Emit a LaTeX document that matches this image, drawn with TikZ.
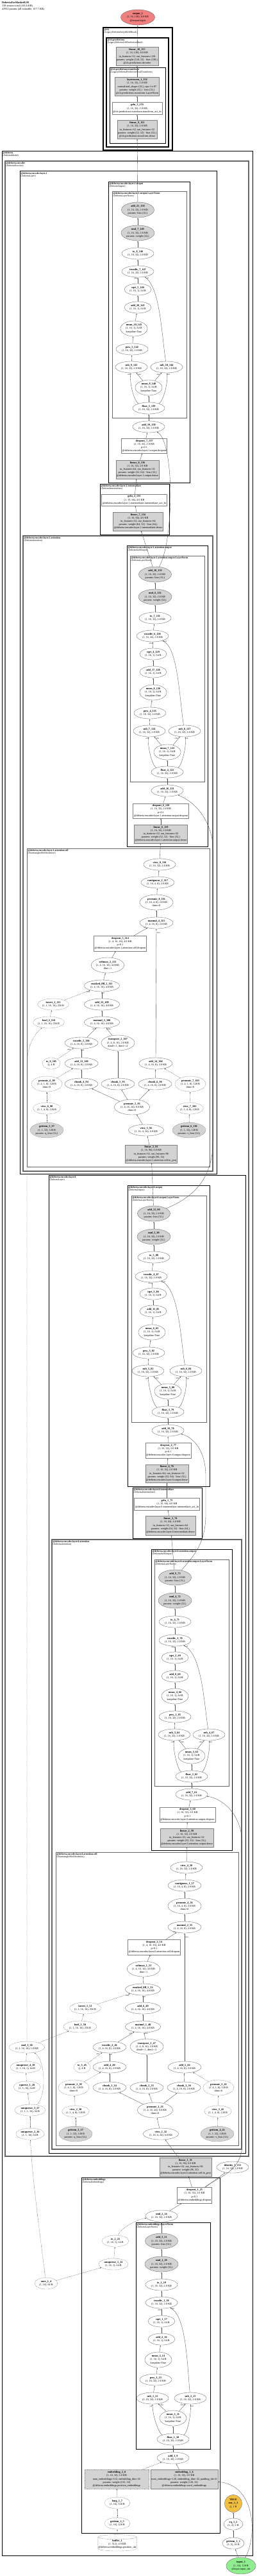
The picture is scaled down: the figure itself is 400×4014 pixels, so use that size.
\documentclass[tikz,border=0pt]{standalone}
\usepackage{fontspec}
\setmainfont{Liberation Serif}
\usepackage{tikz}
\usetikzlibrary{arrows.meta,shapes.geometric}
\definecolor{edgegray}{RGB}{80,80,80}
\definecolor{paramgray}{RGB}{211,211,211}
\definecolor{outred}{RGB}{240,128,128}
\definecolor{ingreen}{RGB}{144,238,144}
\definecolor{boolgold}{RGB}{242,192,64}

\begin{document}
\begin{tikzpicture}[x=1pt, y=-1pt,
    every node/.style={font=\fontsize{4.2}{5.1}\selectfont},
    op/.style={ellipse, draw=black!60, fill=white, line width=0.35pt, inner sep=0.2pt, minimum width=50pt, minimum height=18pt, align=center},
    opw/.style={op, minimum height=24pt},
    par/.style={op, fill=paramgray, minimum height=24pt},
    cst/.style={op, dash pattern=on 1.2pt off 1pt},
    cstp/.style={par, dash pattern=on 1.2pt off 1pt},
    mod/.style={rectangle, draw=black!50, fill=white, line width=0.35pt, inner sep=1.2pt, align=center},
    modp/.style={mod, fill=paramgray},
    clab/.style={anchor=north west, align=left, inner sep=1.3pt, font=\fontsize{3.8}{4.3}\selectfont},
    clk/.style={draw=black, line width=0.9pt},
    clg/.style={draw=black!60, line width=1.2pt},
    arr/.style={-{Latex[length=2.2pt,width=1.6pt]}, draw=edgegray, line width=0.35pt},
    carr/.style={arr, dash pattern=on 1.2pt off 1pt},
    elab/.style={font=\fontsize{2.6}{3}\selectfont, inner sep=0.4pt}
]
\useasboundingbox (0,0) rectangle (400,4014);

% title
\node[anchor=north west, align=left, inner sep=0pt] (title) at (3,2) {\textbf{DebertaForMaskedLM}\\158 tensors total (183.6 KB)\\42932 params (all trainable, 167.7 KB)};

% clusters
\draw[clk, line width=1.3pt] (161,43) rectangle (269,234);
\node[clab] (c_cls) at (161,43) {\textbf{@cls}\\(LegacyDebertaOnlyMLMHead)};
\draw[clk, line width=1.1pt] (166,59) rectangle (263,229);
\node[clab] (c_pred) at (166,59) {\textbf{@cls.predictions}\\(LegacyDebertaLMPredictionHead)};
\draw[clk, line width=0.8pt] (171,105) rectangle (258,223);
\node[clab] (c_trans) at (171,105) {\textbf{@cls.predictions.transform}\\(LegacyDebertaPredictionHeadTransform)};

\draw[clk] (3,235) rectangle (394,3982);
\node[clab] (c_deberta) at (3,235) {\textbf{@deberta}\\(DebertaModel)};
\draw[clg, line width=1.5pt] (8,251) rectangle (388,3360);
\node[clab] (c_enc) at (8,251) {\textbf{@deberta.encoder}\\(DebertaEncoder)};

\draw[clk, line width=1pt] (31,267) rectangle (338,1829);
\node[clab] (c_l1) at (31,267) {\textbf{@deberta.encoder.layer.1}\\(DebertaLayer)};
\draw[clk, line width=0.8pt] (169,283) rectangle (296,752);
\node[clab] (c_l1out) at (169,283) {\textbf{@deberta.encoder.layer.1.output}\\(DebertaOutput)};
\draw[clg, line width=1pt] (175,298) rectangle (291,651);
\node[clab] (c_l1outln) at (175,298) {\textbf{@deberta.encoder.layer.1.output.LayerNorm}\\(DebertaLayerNorm)};
\draw[clk, line width=0.8pt] (156,754) rectangle (264,833);
\node[clab] (c_l1int) at (156,754) {\textbf{@deberta.encoder.layer.1.intermediate}\\(DebertaIntermediate)};
\draw[clg, line width=1.1pt] (36,835) rectangle (332,1825);
\node[clab] (c_l1att) at (36,835) {\textbf{@deberta.encoder.layer.1.attention}\\(DebertaAttention)};
\draw[clk, line width=0.8pt] (198,850) rectangle (324,1319);
\node[clab] (c_l1attout) at (198,850) {\textbf{@deberta.encoder.layer.1.attention.output}\\(DebertaSelfOutput)};
\draw[clg, line width=1pt] (203,866) rectangle (319,1218);
\node[clab] (c_l1attoutln) at (203,866) {\textbf{@deberta.encoder.layer.1.attention.output.LayerNorm}\\(DebertaLayerNorm)};
\draw[clg, line width=1pt] (42,1322) rectangle (327,1818);
\node[clab] (c_l1self) at (42,1322) {\textbf{@deberta.encoder.layer.1.attention.self}\\(DisentangledSelfAttention)};

\draw[clk, line width=1pt] (76,1831) rectangle (383,3355);
\node[clab] (c_l0) at (76,1831) {\textbf{@deberta.encoder.layer.0}\\(DebertaLayer)};
\draw[clk, line width=0.8pt] (199,1847) rectangle (327,2316);
\node[clab] (c_l0out) at (199,1847) {\textbf{@deberta.encoder.layer.0.output}\\(DebertaOutput)};
\draw[clg, line width=1pt] (205,1863) rectangle (322,2216);
\node[clab] (c_l0outln) at (205,1863) {\textbf{@deberta.encoder.layer.0.output.LayerNorm}\\(DebertaLayerNorm)};
\draw[clk, line width=0.8pt] (207,2318) rectangle (315,2397);
\node[clab] (c_l0int) at (207,2318) {\textbf{@deberta.encoder.layer.0.intermediate}\\(DebertaIntermediate)};
\draw[clg, line width=1.1pt] (81,2399) rectangle (377,3349);
\node[clab] (c_l0att) at (81,2399) {\textbf{@deberta.encoder.layer.0.attention}\\(DebertaAttention)};
\draw[clk, line width=0.8pt] (236,2414) rectangle (362,2883);
\node[clab] (c_l0attout) at (236,2414) {\textbf{@deberta.encoder.layer.0.attention.output}\\(DebertaSelfOutput)};
\draw[clg, line width=1pt] (241,2430) rectangle (357,2783);
\node[clab] (c_l0attoutln) at (241,2430) {\textbf{@deberta.encoder.layer.0.attention.output.LayerNorm}\\(DebertaLayerNorm)};
\draw[clg, line width=1pt] (87,2886) rectangle (372,3343);
\node[clab] (c_l0self) at (87,2886) {\textbf{@deberta.encoder.layer.0.attention.self}\\(DisentangledSelfAttention)};

\draw[clk] (127,3393) rectangle (343,3947);
\node[clab] (c_emb) at (127,3393) {\textbf{@deberta.embeddings}\\(DebertaEmbeddings)};
\draw[clk] (212,3463) rectangle (328,3816);
\node[clab] (c_embln) at (212,3463) {\textbf{@deberta.embeddings.LayerNorm}\\(DebertaLayerNorm)};

% head
\node[op, fill=outred, minimum width=53pt, minimum height=24pt] (output_1) at (215,27) {\textbf{output\_1}\\(1, 16, 128), 8.0 KB\\@output.logits};
\node[modp, minimum width=64pt, minimum height=29pt] (linear_10_155) at (214,88) {\textbf{linear\_10\_155}\\(1, 16, 128), 8.0 KB\\in\_features=32, out\_features=128\\params: weight (128, 32) · bias (128,)\\@cls.predictions.decoder};
\node[modp, minimum width=66pt, minimum height=29pt] (layernorm_1_154) at (214,135) {\textbf{layernorm\_1\_154}\\(1, 16, 32), 2.0 KB\\normalized\_shape=(32,), eps=1e-07\\params: weight (32,) · bias (32,)\\@cls.predictions.transform.LayerNorm};
\node[mod, minimum width=75pt, minimum height=19pt] (gelu_3_153) at (214,169) {\textbf{gelu\_3\_153}\\(1, 16, 32), 2.0 KB\\@cls.predictions.transform.transform\_act\_fn};
\node[modp, minimum width=60pt, minimum height=29pt] (linear_9_152) at (214,202) {\textbf{linear\_9\_152}\\(1, 16, 32), 2.0 KB\\in\_features=32, out\_features=32\\params: weight (32, 32) · bias (32,)\\@cls.predictions.transform.dense};

% layer 1 output
\node[par, minimum width=51pt] (add_21_150) at (215,327) {\textbf{add\_21\_150}\\(1, 16, 32), 2.0 KB\\params: bias (32,)};
\node[par, minimum width=52pt] (mul_7_149) at (215,363) {\textbf{mul\_7\_149}\\(1, 16, 32), 2.0 KB\\params: weight (32,)};
\node[op] (to_8_148) at (215,395) {\textbf{to\_8\_148}\\(1, 16, 32), 2.0 KB};
\node[op] (truediv_7_147) at (215,423) {\textbf{truediv\_7\_147}\\(1, 16, 32), 2.0 KB};
\node[op, minimum width=42pt] (sqrt_5_146) at (215,451) {\textbf{sqrt\_5\_146}\\(1, 16, 1), 64 B};
\node[op, minimum width=42pt] (add_20_145) at (215,479) {\textbf{add\_20\_145}\\(1, 16, 1), 64 B};
\node[opw, minimum width=42pt] (mean_10_143) at (209,512) {\textbf{mean\_10\_143}\\(1, 16, 1), 64 B\\keepdim=True};
\node[op] (pow_5_142) at (206,544) {\textbf{pow\_5\_142}\\(1, 16, 32), 2.0 KB};
\node[op] (sub_9_141) at (205,572) {\textbf{sub\_9\_141}\\(1, 16, 32), 2.0 KB};
\node[op] (sub_10_144) at (260,572) {\textbf{sub\_10\_144}\\(1, 16, 32), 2.0 KB};
\node[opw, minimum width=42pt] (mean_9_140) at (232,604) {\textbf{mean\_9\_140}\\(1, 16, 1), 64 B\\keepdim=True};
\node[op] (float_5_139) at (232,636) {\textbf{float\_5\_139}\\(1, 16, 32), 2.0 KB};
\node[op] (add_19_138) at (232,665) {\textbf{add\_19\_138}\\(1, 16, 32), 2.0 KB};
\node[mod, minimum width=68pt, minimum height=23pt] (dropout_7_137) at (225,695) {\textbf{dropout\_7\_137}\\(1, 16, 32), 2.0 KB\\p=0.1\\@deberta.encoder.layer.1.output.dropout};
\node[modp, minimum width=65pt, minimum height=29pt] (linear_8_136) at (214.5,731.5) {\textbf{linear\_8\_136}\\(1, 16, 32), 2.0 KB\\in\_features=64, out\_features=32\\params: weight (32, 64) · bias (32,)\\@deberta.encoder.layer.1.output.dense};
\node[mod, minimum width=97pt, minimum height=18pt] (gelu_2_135) at (209.5,779) {\textbf{gelu\_2\_135}\\(1, 16, 64), 4.0 KB\\@deberta.encoder.layer.1.intermediate.intermediate\_act\_fn};
\node[modp, minimum width=73pt, minimum height=29pt] (linear_7_134) at (215.5,812.5) {\textbf{linear\_7\_134}\\(1, 16, 64), 4.0 KB\\in\_features=32, out\_features=64\\params: weight (64, 32) · bias (64,)\\@deberta.encoder.layer.1.intermediate.dense};

% layer 1 attention output
\node[par, minimum width=51pt] (add_18_133) at (242,895) {\textbf{add\_18\_133}\\(1, 16, 32), 2.0 KB\\params: bias (32,)};
\node[par, minimum width=52pt] (mul_6_132) at (242,930) {\textbf{mul\_6\_132}\\(1, 16, 32), 2.0 KB\\params: weight (32,)};
\node[op] (to_7_131) at (242,963) {\textbf{to\_7\_131}\\(1, 16, 32), 2.0 KB};
\node[op] (truediv_6_130) at (238,991) {\textbf{truediv\_6\_130}\\(1, 16, 32), 2.0 KB};
\node[op, minimum width=42pt] (sqrt_4_129) at (239,1019) {\textbf{sqrt\_4\_129}\\(1, 16, 1), 64 B};
\node[op, minimum width=42pt] (add_17_128) at (239,1047) {\textbf{add\_17\_128}\\(1, 16, 1), 64 B};
\node[opw, minimum width=42pt] (mean_8_126) at (239,1079) {\textbf{mean\_8\_126}\\(1, 16, 1), 64 B\\keepdim=True};
\node[op] (pow_4_125) at (234,1111) {\textbf{pow\_4\_125}\\(1, 16, 32), 2.0 KB};
\node[op] (sub_7_124) at (233,1139) {\textbf{sub\_7\_124}\\(1, 16, 32), 2.0 KB};
\node[op] (sub_8_127) at (288,1139) {\textbf{sub\_8\_127}\\(1, 16, 32), 2.0 KB};
\node[opw, minimum width=42pt] (mean_7_123) at (261,1172) {\textbf{mean\_7\_123}\\(1, 16, 1), 64 B\\keepdim=True};
\node[op] (float_4_122) at (261,1203) {\textbf{float\_4\_122}\\(1, 16, 32), 2.0 KB};
\node[op] (add_16_121) at (261,1232) {\textbf{add\_16\_121}\\(1, 16, 32), 2.0 KB};
\node[mod, minimum width=82pt, minimum height=23pt] (dropout_6_120) at (251,1263.5) {\textbf{dropout\_6\_120}\\(1, 16, 32), 2.0 KB\\p=0.1\\@deberta.encoder.layer.1.attention.output.dropout};
\node[modp, minimum width=80pt, minimum height=29pt] (linear_6_119) at (251,1299.5) {\textbf{linear\_6\_119}\\(1, 16, 32), 2.0 KB\\in\_features=32, out\_features=32\\params: weight (32, 32) · bias (32,)\\@deberta.encoder.layer.1.attention.output.dense};

% layer 1 self attention
\node[op] (view_8_118) at (249,1347) {\textbf{view\_8\_118}\\(1, 16, 32), 2.0 KB};
\node[op, minimum width=52pt] (contiguous_2_117) at (246,1375) {\textbf{contiguous\_2\_117}\\(1, 16, 4, 8), 2.0 KB};
\node[opw, minimum width=52pt] (permute_8_116) at (244,1406) {\textbf{permute\_8\_116}\\(1, 16, 4, 8), 2.0 KB\\dims=0};
\node[op, minimum width=52pt] (matmul_4_115) at (244,1438) {\textbf{matmul\_4\_115}\\(1, 4, 16, 8), 2.0 KB};
\node[mod, minimum width=79pt, minimum height=24pt] (dropout_5_114) at (187.5,1470) {\textbf{dropout\_5\_114}\\(1, 4, 16, 16), 4.0 KB\\p=0.1\\@deberta.encoder.layer.1.attention.self.dropout};
\node[opw, minimum width=46pt] (softmax_2_113) at (168,1504) {\textbf{softmax\_2\_113}\\(1, 4, 16, 16), 4.0 KB\\dim=-1};
\node[op, minimum width=55pt] (masked_fill_2_112) at (159,1536) {\textbf{masked\_fill\_2\_112}\\(1, 4, 16, 16), 4.0 KB};
\node[cst, minimum width=44pt] (invert_2_111) at (83,1565) {\textbf{invert\_2\_111}\\(1, 1, 16, 16), 256 B};
\node[op, minimum width=55pt] (add_15_109) at (159,1565) {\textbf{add\_15\_109}\\(1, 4, 16, 16), 4.0 KB};
\node[cst, minimum width=44pt] (bool_2_110) at (76,1593) {\textbf{bool\_2\_110}\\(1, 1, 16, 16), 256 B};
\node[op, minimum width=55pt] (matmul_3_108) at (159,1593) {\textbf{matmul\_3\_108}\\(1, 4, 16, 16), 4.0 KB};
\node[op, minimum width=52pt] (truediv_5_106) at (127,1625) {\textbf{truediv\_5\_106}\\(1, 4, 16, 8), 2.0 KB};
\node[opw, minimum width=52pt] (transpose_2_107) at (184,1625) {\textbf{transpose\_2\_107}\\(1, 4, 8, 16), 2.0 KB\\dim0=-1, dim1=-2};
\node[cst, minimum width=28pt] (to_6_105) at (80,1657) {\textbf{to\_6\_105}\\(), 4 B};
\node[op, minimum width=52pt] (add_13_100) at (127,1657) {\textbf{add\_13\_100}\\(1, 4, 16, 8), 2.0 KB};
\node[op, minimum width=52pt] (add_14_104) at (243,1657) {\textbf{add\_14\_104}\\(1, 4, 16, 8), 2.0 KB};
\node[cst, minimum width=48pt, minimum height=24pt] (permute_6_99) at (73,1689) {\textbf{permute\_6\_99}\\(1, 4, 1, 8), 128 B\\dims=0};
\node[op, minimum width=52pt] (chunk_4_94) at (127,1689) {\textbf{chunk\_4\_94}\\(1, 4, 16, 8), 2.0 KB};
\node[op, minimum width=52pt] (chunk_5_95) at (184,1689) {\textbf{chunk\_5\_95}\\(1, 4, 16, 8), 2.0 KB};
\node[op, minimum width=52pt] (chunk_6_96) at (242,1689) {\textbf{chunk\_6\_96}\\(1, 4, 16, 8), 2.0 KB};
\node[cst, minimum width=48pt, minimum height=24pt] (permute_7_103) at (297,1689) {\textbf{permute\_7\_103}\\(1, 4, 1, 8), 128 B\\dims=0};
\node[cst, minimum width=42pt] (view_6_98) at (73,1727) {\textbf{view\_6\_98}\\(1, 1, 4, 8), 128 B};
\node[opw, minimum width=55pt] (permute_5_93) at (206,1725) {\textbf{permute\_5\_93}\\(1, 4, 16, 24), 6.0 KB\\dims=0};
\node[cst, minimum width=42pt] (view_7_102) at (296,1727) {\textbf{view\_7\_102}\\(1, 1, 4, 8), 128 B};
\node[cstp, minimum width=52pt] (getitem_5_97) at (73,1761) {\textbf{getitem\_5\_97}\\(1, 1, 32), 128 B\\params: q\_bias (32,)};
\node[op, minimum width=55pt] (view_5_92) at (228,1761) {\textbf{view\_5\_92}\\(1, 16, 4, 24), 6.0 KB};
\node[cstp, minimum width=52pt] (getitem_6_101) at (295,1761) {\textbf{getitem\_6\_101}\\(1, 1, 32), 128 B\\params: v\_bias (32,)};
\node[modp, minimum width=76pt, minimum height=28pt] (linear_5_91) at (236,1798) {\textbf{linear\_5\_91}\\(1, 16, 96), 6.0 KB\\in\_features=32, out\_features=96\\params: weight (96, 32)\\@deberta.encoder.layer.1.attention.self.in\_proj};

% layer 0 output
\node[par, minimum width=51pt] (add_12_90) at (240,1891) {\textbf{add\_12\_90}\\(1, 16, 32), 2.0 KB\\params: bias (32,)};
\node[par, minimum width=52pt] (mul_5_89) at (240,1927) {\textbf{mul\_5\_89}\\(1, 16, 32), 2.0 KB\\params: weight (32,)};
\node[op] (to_5_88) at (240,1959) {\textbf{to\_5\_88}\\(1, 16, 32), 2.0 KB};
\node[op] (truediv_4_87) at (236,1989) {\textbf{truediv\_4\_87}\\(1, 16, 32), 2.0 KB};
\node[op, minimum width=42pt] (sqrt_3_86) at (239,2016) {\textbf{sqrt\_3\_86}\\(1, 16, 1), 64 B};
\node[op, minimum width=42pt] (add_11_85) at (239,2043) {\textbf{add\_11\_85}\\(1, 16, 1), 64 B};
\node[opw, minimum width=42pt] (mean_6_83) at (237,2076) {\textbf{mean\_6\_83}\\(1, 16, 1), 64 B\\keepdim=True};
\node[op] (pow_3_82) at (232,2108) {\textbf{pow\_3\_82}\\(1, 16, 32), 2.0 KB};
\node[op] (sub_5_81) at (231,2136) {\textbf{sub\_5\_81}\\(1, 16, 32), 2.0 KB};
\node[op] (sub_6_84) at (290,2136) {\textbf{sub\_6\_84}\\(1, 16, 32), 2.0 KB};
\node[opw, minimum width=42pt] (mean_5_80) at (262,2168) {\textbf{mean\_5\_80}\\(1, 16, 1), 64 B\\keepdim=True};
\node[op] (float_3_79) at (262,2200) {\textbf{float\_3\_79}\\(1, 16, 32), 2.0 KB};
\node[op] (add_10_78) at (262,2229) {\textbf{add\_10\_78}\\(1, 16, 32), 2.0 KB};
\node[mod, minimum width=69pt, minimum height=24pt] (dropout_4_77) at (262.5,2260) {\textbf{dropout\_4\_77}\\(1, 16, 32), 2.0 KB\\p=0.1\\@deberta.encoder.layer.0.output.dropout};
\node[modp, minimum width=65pt, minimum height=28pt] (linear_4_76) at (260.5,2296) {\textbf{linear\_4\_76}\\(1, 16, 32), 2.0 KB\\in\_features=64, out\_features=32\\params: weight (32, 64) · bias (32,)\\@deberta.encoder.layer.0.output.dense};
\node[mod, minimum width=97pt, minimum height=19pt] (gelu_1_75) at (260.5,2343.5) {\textbf{gelu\_1\_75}\\(1, 16, 64), 4.0 KB\\@deberta.encoder.layer.0.intermediate.intermediate\_act\_fn};
\node[modp, minimum width=74pt, minimum height=30pt] (linear_3_74) at (266,2377) {\textbf{linear\_3\_74}\\(1, 16, 64), 4.0 KB\\in\_features=32, out\_features=64\\params: weight (64, 32) · bias (64,)\\@deberta.encoder.layer.0.intermediate.dense};

% layer 0 attention output
\node[par, minimum width=51pt] (add_9_73) at (273,2458) {\textbf{add\_9\_73}\\(1, 16, 32), 2.0 KB\\params: bias (32,)};
\node[par, minimum width=52pt] (mul_4_72) at (273,2494) {\textbf{mul\_4\_72}\\(1, 16, 32), 2.0 KB\\params: weight (32,)};
\node[op] (to_4_71) at (273,2527) {\textbf{to\_4\_71}\\(1, 16, 32), 2.0 KB};
\node[op] (truediv_3_70) at (273,2556) {\textbf{truediv\_3\_70}\\(1, 16, 32), 2.0 KB};
\node[op, minimum width=42pt] (sqrt_2_69) at (273,2583) {\textbf{sqrt\_2\_69}\\(1, 16, 1), 64 B};
\node[op, minimum width=42pt] (add_8_68) at (273,2612) {\textbf{add\_8\_68}\\(1, 16, 1), 64 B};
\node[opw, minimum width=42pt] (mean_4_66) at (273,2643) {\textbf{mean\_4\_66}\\(1, 16, 1), 64 B\\keepdim=True};
\node[op] (pow_2_65) at (273,2675) {\textbf{pow\_2\_65}\\(1, 16, 32), 2.0 KB};
\node[op] (sub_3_64) at (272,2703) {\textbf{sub\_3\_64}\\(1, 16, 32), 2.0 KB};
\node[op] (sub_4_67) at (326,2703) {\textbf{sub\_4\_67}\\(1, 16, 32), 2.0 KB};
\node[opw, minimum width=42pt] (mean_3_63) at (299,2736) {\textbf{mean\_3\_63}\\(1, 16, 1), 64 B\\keepdim=True};
\node[op] (float_2_62) at (299,2768) {\textbf{float\_2\_62}\\(1, 16, 32), 2.0 KB};
\node[op] (add_7_61) at (299,2796) {\textbf{add\_7\_61}\\(1, 16, 32), 2.0 KB};
\node[mod, minimum width=81pt, minimum height=23pt] (dropout_3_60) at (292.5,2827.5) {\textbf{dropout\_3\_60}\\(1, 16, 32), 2.0 KB\\p=0.1\\@deberta.encoder.layer.0.attention.output.dropout};
\node[modp, minimum width=79pt, minimum height=29pt] (linear_2_59) at (291.5,2863.5) {\textbf{linear\_2\_59}\\(1, 16, 32), 2.0 KB\\in\_features=32, out\_features=32\\params: weight (32, 32) · bias (32,)\\@deberta.encoder.layer.0.attention.output.dense};

% layer 0 self attention
\node[op] (view_4_58) at (291,2910) {\textbf{view\_4\_58}\\(1, 16, 32), 2.0 KB};
\node[op, minimum width=52pt] (contiguous_1_57) at (288,2938) {\textbf{contiguous\_1\_57}\\(1, 16, 4, 8), 2.0 KB};
\node[opw, minimum width=52pt] (permute_4_56) at (288,2970) {\textbf{permute\_4\_56}\\(1, 16, 4, 8), 2.0 KB\\dims=0};
\node[op, minimum width=52pt] (matmul_2_55) at (288,3003) {\textbf{matmul\_2\_55}\\(1, 4, 16, 8), 2.0 KB};
\node[mod, minimum width=77pt, minimum height=24pt] (dropout_2_54) at (240.5,3034) {\textbf{dropout\_2\_54}\\(1, 4, 16, 16), 4.0 KB\\p=0.1\\@deberta.encoder.layer.0.attention.self.dropout};
\node[opw, minimum width=46pt] (softmax_1_53) at (224,3068) {\textbf{softmax\_1\_53}\\(1, 4, 16, 16), 4.0 KB\\dim=-1};
\node[op, minimum width=55pt] (masked_fill_1_52) at (223,3100) {\textbf{masked\_fill\_1\_52}\\(1, 4, 16, 16), 4.0 KB};
\node[cst, minimum width=44pt] (invert_1_51) at (133,3129) {\textbf{invert\_1\_51}\\(1, 1, 16, 16), 256 B};
\node[op, minimum width=55pt] (add_6_49) at (223,3129) {\textbf{add\_6\_49}\\(1, 4, 16, 16), 4.0 KB};
\node[cst, minimum width=52pt] (bool_1_50) at (125,3158) {\textbf{bool\_1\_50}\\(1, 1, 16, 16), 256 B};
\node[op, minimum width=55pt] (matmul_1_48) at (223,3158) {\textbf{matmul\_1\_48}\\(1, 4, 16, 16), 4.0 KB};
\node[cst, minimum width=55pt] (mul_3_30) at (42,3190) {\textbf{mul\_3\_30}\\(1, 1, 16, 16), 1.0 KB};
\node[op, minimum width=52pt] (truediv_2_46) at (171,3190) {\textbf{truediv\_2\_46}\\(1, 4, 16, 8), 2.0 KB};
\node[opw, minimum width=52pt] (transpose_1_47) at (229,3189) {\textbf{transpose\_1\_47}\\(1, 4, 8, 16), 2.0 KB\\dim0=-1, dim1=-2};
\node[cst, minimum width=48pt] (unsqueeze_4_29) at (40,3221) {\textbf{unsqueeze\_4\_29}\\(1, 1, 16, 1), 64 B};
\node[cst, minimum width=26pt] (to_3_45) at (128,3221) {\textbf{to\_3\_45}\\(), 4 B};
\node[op, minimum width=52pt] (add_4_40) at (171,3221) {\textbf{add\_4\_40}\\(1, 4, 16, 8), 2.0 KB};
\node[op, minimum width=52pt] (add_5_44) at (288,3221) {\textbf{add\_5\_44}\\(1, 4, 16, 8), 2.0 KB};
\node[cst, minimum width=42pt] (squeeze_1_28) at (42,3252) {\textbf{squeeze\_1\_28}\\(1, 1, 16), 64 B};
\node[cst, minimum width=48pt, minimum height=24pt] (permute_2_39) at (115,3253) {\textbf{permute\_2\_39}\\(1, 4, 1, 8), 128 B\\dims=0};
\node[op, minimum width=52pt] (chunk_1_34) at (171,3253) {\textbf{chunk\_1\_34}\\(1, 4, 16, 8), 2.0 KB};
\node[op, minimum width=52pt] (chunk_2_35) at (229,3253) {\textbf{chunk\_2\_35}\\(1, 4, 16, 8), 2.0 KB};
\node[op, minimum width=52pt] (chunk_3_36) at (287,3253) {\textbf{chunk\_3\_36}\\(1, 4, 16, 8), 2.0 KB};
\node[cst, minimum width=48pt, minimum height=24pt] (permute_3_43) at (341,3253) {\textbf{permute\_3\_43}\\(1, 4, 1, 8), 128 B\\dims=0};
\node[cst, minimum width=48pt] (unsqueeze_3_27) at (47,3288) {\textbf{unsqueeze\_3\_27}\\(1, 1, 1, 16), 64 B};
\node[cst, minimum width=42pt] (view_2_38) at (118,3290) {\textbf{view\_2\_38}\\(1, 1, 4, 8), 128 B};
\node[opw, minimum width=55pt] (permute_1_33) at (242,3288) {\textbf{permute\_1\_33}\\(1, 4, 16, 24), 6.0 KB\\dims=0};
\node[cst, minimum width=42pt] (view_3_42) at (340,3290) {\textbf{view\_3\_42}\\(1, 1, 4, 8), 128 B};
\node[cst, minimum width=44pt] (unsqueeze_2_26) at (47,3325) {\textbf{unsqueeze\_2\_26}\\(1, 1, 16), 64 B};
\node[cstp, minimum width=52pt] (getitem_3_37) at (118,3325) {\textbf{getitem\_3\_37}\\(1, 1, 32), 128 B\\params: q\_bias (32,)};
\node[op, minimum width=55pt] (view_1_32) at (251,3325) {\textbf{view\_1\_32}\\(1, 16, 4, 24), 6.0 KB};
\node[cstp, minimum width=52pt] (getitem_4_41) at (339,3325) {\textbf{getitem\_4\_41}\\(1, 1, 32), 128 B\\params: v\_bias (32,)};

% embeddings and inputs
\node[modp, minimum width=77pt, minimum height=29pt] (linear_1_31) at (289.5,3376.5) {\textbf{linear\_1\_31}\\(1, 16, 96), 6.0 KB\\in\_features=32, out\_features=96\\params: weight (96, 32)\\@deberta.encoder.layer.0.attention.self.in\_proj};
\node[op] (identity_1_151) at (363,3377) {\textbf{identity\_1\_151}\\(1, 16, 32), 2.0 KB};
\node[mod, minimum width=53pt, minimum height=25pt] (dropout_1_25) at (303.5,3420.5) {\textbf{dropout\_1\_25}\\(1, 16, 32), 2.0 KB\\p=0.1\\@deberta.embeddings.dropout};
\node[op] (mul_2_24) at (252,3453) {\textbf{mul\_2\_24}\\(1, 16, 32), 2.0 KB};
\node[cst, minimum width=42pt] (to_2_23) at (180,3492) {\textbf{to\_2\_23}\\(1, 16, 1), 64 B};
\node[cst, minimum width=46pt] (unsqueeze_1_22) at (177,3528) {\textbf{unsqueeze\_1\_22}\\(1, 16, 1), 64 B};
\node[cst, minimum width=36pt] (ones_1_4) at (72,3558) {\textbf{ones\_1\_4}\\(1, 16), 64 B};

\node[par, minimum width=51pt] (add_3_21) at (252,3492) {\textbf{add\_3\_21}\\(1, 16, 32), 2.0 KB\\params: bias (32,)};
\node[par, minimum width=52pt] (mul_1_20) at (252,3528) {\textbf{mul\_1\_20}\\(1, 16, 32), 2.0 KB\\params: weight (32,)};
\node[op] (to_1_19) at (252,3560) {\textbf{to\_1\_19}\\(1, 16, 32), 2.0 KB};
\node[op] (truediv_1_18) at (252,3588) {\textbf{truediv\_1\_18}\\(1, 16, 32), 2.0 KB};
\node[op, minimum width=42pt] (sqrt_1_17) at (252,3617) {\textbf{sqrt\_1\_17}\\(1, 16, 1), 64 B};
\node[op, minimum width=42pt] (add_2_16) at (252,3645) {\textbf{add\_2\_16}\\(1, 16, 1), 64 B};
\node[opw, minimum width=42pt] (mean_2_14) at (247,3677) {\textbf{mean\_2\_14}\\(1, 16, 1), 64 B\\keepdim=True};
\node[op] (pow_1_13) at (243,3708) {\textbf{pow\_1\_13}\\(1, 16, 32), 2.0 KB};
\node[op] (sub_1_12) at (238,3737) {\textbf{sub\_1\_12}\\(1, 16, 32), 2.0 KB};
\node[op] (sub_2_15) at (297,3737) {\textbf{sub\_2\_15}\\(1, 16, 32), 2.0 KB};
\node[opw, minimum width=42pt] (mean_1_11) at (270,3768) {\textbf{mean\_1\_11}\\(1, 16, 1), 64 B\\keepdim=True};
\node[op] (float_1_10) at (270,3801) {\textbf{float\_1\_10}\\(1, 16, 32), 2.0 KB};
\node[op] (add_1_9) at (270,3830) {\textbf{add\_1\_9}\\(1, 16, 32), 2.0 KB};
\node[modp, dash pattern=on 1.2pt off 1pt, minimum width=100pt, minimum height=30pt] (embedding_2_8) at (182,3863) {\textbf{embedding\_2\_8}\\(1, 16, 32), 2.0 KB\\num\_embeddings=512, embedding\_dim=32\\params: weight (512, 32)\\@deberta.embeddings.position\_embeddings};
\node[modp, minimum width=99pt, minimum height=30pt] (embedding_1_6) at (287.5,3863) {\textbf{embedding\_1\_6}\\(1, 16, 32), 2.0 KB\\num\_embeddings=128, embedding\_dim=32, padding\_idx=0\\params: weight (128, 32)\\@deberta.embeddings.word\_embeddings};
\node[cst, minimum width=40pt] (long_1_7) at (183,3900) {\textbf{long\_1\_7}\\(1, 16), 128 B};
\node[cst, minimum width=40pt] (getitem_2_5) at (183,3932) {\textbf{getitem\_2\_5}\\(1, 16), 128 B};
\node[cylinder, shape border rotate=90, aspect=0.12, draw=black!60, dash pattern=on 1.2pt off 1pt, line width=0.35pt, inner sep=0.5pt, minimum width=60pt, minimum height=25pt, align=center] (buffer_1) at (183,3964.5) {\textbf{buffer\_1}\\(1, 512), 4.0 KB\\@deberta.embeddings.position\_ids};
\node[circle, draw=black!60, fill=boolgold, line width=0.35pt, minimum size=27pt, inner sep=0pt, align=center] (any_1_3) at (364,3901) {\textbf{TRUE}\\\textbf{any\_1\_3}\\(), 1 B};
\node[op, minimum width=30pt] (eq_1_2) at (364,3933) {\textbf{eq\_1\_2}\\(1, 2), 2 B};
\node[op, minimum width=34pt] (getitem_1_1) at (364,3963) {\textbf{getitem\_1\_1}\\(1, 2), 16 B};
\node[op, fill=ingreen, minimum width=46pt, minimum height=26pt] (input_1) at (376,3998) {\textbf{input\_1}\\(1, 16), 128 B\\@input.input\_ids};

% connectors: head
\draw[arr] (linear_10_155) -- (output_1);
\draw[arr] (layernorm_1_154) -- (linear_10_155);
\draw[arr] (gelu_3_153) -- (layernorm_1_154);
\draw[arr] (linear_9_152) -- (gelu_3_153);
\draw[arr] (add_21_150) -- (linear_9_152);

% connectors: layer 1 output
\draw[arr] (mul_7_149) -- (add_21_150);
\draw[arr] (to_8_148) -- (mul_7_149);
\draw[arr] (truediv_7_147) -- (to_8_148);
\draw[arr] (sqrt_5_146) -- (truediv_7_147) node[elab, pos=0.8, left] {other};
\draw[arr] (sub_10_144) .. controls (252,520) and (250,450) .. (truediv_7_147) node[elab, pos=0.97, right] {self};
\draw[arr] (add_20_145) -- (sqrt_5_146);
\draw[arr] (mean_10_143) -- (add_20_145);
\draw[arr] (pow_5_142) -- (mean_10_143);
\draw[arr] (sub_9_141) -- (pow_5_142);
\draw[arr] (mean_9_140) -- (sub_9_141) node[elab, pos=0.8, right] {other};
\draw[arr] (mean_9_140) -- (sub_10_144) node[elab, pos=0.8, left] {other};
\draw[arr] (float_5_139) .. controls (210,626) and (202,600) .. (sub_9_141) node[elab, pos=0.95, left] {self};
\draw[arr] (float_5_139) .. controls (254,626) and (262,600) .. (sub_10_144) node[elab, pos=0.95, right] {self};
\draw[arr] (float_5_139) -- (mean_9_140);
\draw[arr] (add_19_138) -- (float_5_139);
\draw[arr] (dropout_7_137) -- (add_19_138);
\draw[arr] (add_18_133) .. controls (272,840) and (272,690) .. (add_19_138);
\draw[arr] (linear_8_136) -- (dropout_7_137);
\draw[arr] (gelu_2_135) -- (linear_8_136);
\draw[arr] (linear_7_134) -- (gelu_2_135);
\draw[arr] (add_18_133) -- (linear_7_134);

% connectors: layer 1 attention output
\draw[arr] (mul_6_132) -- (add_18_133);
\draw[arr] (to_7_131) -- (mul_6_132);
\draw[arr] (truediv_6_130) -- (to_7_131);
\draw[arr] (sqrt_4_129) -- (truediv_6_130) node[elab, pos=0.8, left] {other};
\draw[arr] (sub_8_127) .. controls (280,1090) and (278,1010) .. (truediv_6_130) node[elab, pos=0.97, right] {self};
\draw[arr] (add_17_128) -- (sqrt_4_129);
\draw[arr] (mean_8_126) -- (add_17_128);
\draw[arr] (pow_4_125) -- (mean_8_126);
\draw[arr] (sub_7_124) -- (pow_4_125);
\draw[arr] (mean_7_123) -- (sub_7_124) node[elab, pos=0.8, right] {other};
\draw[arr] (mean_7_123) -- (sub_8_127) node[elab, pos=0.8, left] {other};
\draw[arr] (float_4_122) .. controls (238,1194) and (230,1165) .. (sub_7_124) node[elab, pos=0.95, left] {self};
\draw[arr] (float_4_122) .. controls (283,1194) and (291,1165) .. (sub_8_127) node[elab, pos=0.95, right] {self};
\draw[arr] (float_4_122) -- (mean_7_123);
\draw[arr] (add_16_121) -- (float_4_122);
\draw[arr] (dropout_6_120) -- (add_16_121);
\draw[arr] (linear_6_119) -- (dropout_6_120);
\draw[arr] (view_8_118) -- (linear_6_119);
\draw[arr] (add_12_90) .. controls (310,1862) and (333,1830) .. (333,1770) -- (333,1330) .. controls (333,1280) and (305,1250) .. (add_16_121);

% connectors: layer 1 self attention
\draw[arr] (contiguous_2_117) -- (view_8_118);
\draw[arr] (permute_8_116) -- (contiguous_2_117);
\draw[arr] (matmul_4_115) -- (permute_8_116);
\draw[arr] (dropout_5_114) -- (matmul_4_115) node[elab, pos=0.9, above left] {self};
\draw[arr] (add_14_104) -- (matmul_4_115) node[elab, pos=0.97, right] {other};
\draw[arr] (softmax_2_113) -- (dropout_5_114);
\draw[arr] (masked_fill_2_112) -- (softmax_2_113);
\draw[arr] (add_15_109) -- (masked_fill_2_112) node[elab, pos=0.8, right] {self};
\draw[carr] (invert_2_111) -- (masked_fill_2_112) node[elab, pos=0.92, below] {mask};
\draw[carr] (bool_2_110) -- (invert_2_111);
\draw[arr] (matmul_3_108) -- (add_15_109);
\draw[arr] (truediv_5_106) -- (matmul_3_108) node[elab, pos=0.85, left] {self};
\draw[arr] (transpose_2_107) -- (matmul_3_108) node[elab, pos=0.85, right] {other};
\draw[arr] (add_13_100) -- (truediv_5_106) node[elab, pos=0.8, right] {self};
\draw[carr] (to_6_105) -- (truediv_5_106) node[elab, pos=0.85, left] {other};
\draw[arr] (chunk_5_95) -- (transpose_2_107);
\draw[arr] (chunk_4_94) -- (add_13_100);
\draw[carr] (permute_6_99) -- (add_13_100);
\draw[arr] (chunk_6_96) -- (add_14_104);
\draw[carr] (permute_7_103) -- (add_14_104);
\draw[carr] (view_6_98) -- (permute_6_99);
\draw[carr] (view_7_102) -- (permute_7_103);
\draw[carr] (getitem_5_97) -- (view_6_98);
\draw[carr] (getitem_6_101) -- (view_7_102);
\draw[arr] (permute_5_93) -- (chunk_4_94);
\draw[arr] (permute_5_93) -- (chunk_5_95);
\draw[arr] (permute_5_93) -- (chunk_6_96);
\draw[arr] (view_5_92) -- (permute_5_93);
\draw[arr] (linear_5_91) -- (view_5_92);
\draw[arr] (add_12_90) -- (linear_5_91);
\draw[carr] (mul_3_30) -- (42,1660) .. controls (42,1628) and (55,1610) .. (bool_2_110);

% connectors: layer 0 output
\draw[arr] (mul_5_89) -- (add_12_90);
\draw[arr] (to_5_88) -- (mul_5_89);
\draw[arr] (truediv_4_87) -- (to_5_88);
\draw[arr] (sqrt_3_86) -- (truediv_4_87) node[elab, pos=0.8, left] {other};
\draw[arr] (sub_6_84) .. controls (282,2090) and (280,2010) .. (truediv_4_87) node[elab, pos=0.97, right] {self};
\draw[arr] (add_11_85) -- (sqrt_3_86);
\draw[arr] (mean_6_83) -- (add_11_85);
\draw[arr] (pow_3_82) -- (mean_6_83);
\draw[arr] (sub_5_81) -- (pow_3_82);
\draw[arr] (mean_5_80) -- (sub_5_81) node[elab, pos=0.8, right] {other};
\draw[arr] (mean_5_80) -- (sub_6_84) node[elab, pos=0.8, left] {other};
\draw[arr] (float_3_79) .. controls (240,2191) and (232,2165) .. (sub_5_81) node[elab, pos=0.95, left] {self};
\draw[arr] (float_3_79) .. controls (284,2191) and (292,2165) .. (sub_6_84) node[elab, pos=0.95, right] {self};
\draw[arr] (float_3_79) -- (mean_5_80);
\draw[arr] (add_10_78) -- (float_3_79);
\draw[arr] (dropout_4_77) -- (add_10_78);
\draw[arr] (linear_4_76) -- (dropout_4_77);
\draw[arr] (gelu_1_75) -- (linear_4_76);
\draw[arr] (linear_3_74) -- (gelu_1_75);
\draw[arr] (add_9_73) -- (linear_3_74);
\draw[arr] (add_9_73) .. controls (302,2425) and (321,2405) .. (321,2360) -- (321,2300) .. controls (321,2262) and (303,2240) .. (add_10_78);

% connectors: layer 0 attention output
\draw[arr] (mul_4_72) -- (add_9_73);
\draw[arr] (to_4_71) -- (mul_4_72);
\draw[arr] (truediv_3_70) -- (to_4_71);
\draw[arr] (sqrt_2_69) -- (truediv_3_70) node[elab, pos=0.8, left] {other};
\draw[arr] (sub_4_67) .. controls (318,2650) and (315,2580) .. (truediv_3_70) node[elab, pos=0.97, right] {self};
\draw[arr] (add_8_68) -- (sqrt_2_69);
\draw[arr] (mean_4_66) -- (add_8_68);
\draw[arr] (pow_2_65) -- (mean_4_66);
\draw[arr] (sub_3_64) -- (pow_2_65);
\draw[arr] (mean_3_63) -- (sub_3_64) node[elab, pos=0.8, right] {other};
\draw[arr] (mean_3_63) -- (sub_4_67) node[elab, pos=0.8, left] {other};
\draw[arr] (float_2_62) .. controls (278,2759) and (270,2730) .. (sub_3_64) node[elab, pos=0.95, left] {self};
\draw[arr] (float_2_62) .. controls (320,2759) and (328,2730) .. (sub_4_67) node[elab, pos=0.95, right] {self};
\draw[arr] (float_2_62) -- (mean_3_63);
\draw[arr] (add_7_61) -- (float_2_62);
\draw[arr] (dropout_3_60) -- (add_7_61);
\draw[arr] (linear_2_59) -- (dropout_3_60);
\draw[arr] (view_4_58) -- (linear_2_59);
\draw[arr] (dropout_1_25) .. controls (340,3392) and (378,3385) .. (378,3340) -- (378,2875) .. controls (378,2825) and (345,2802) .. (add_7_61);

% connectors: layer 0 self attention
\draw[arr] (contiguous_1_57) -- (view_4_58);
\draw[arr] (permute_4_56) -- (contiguous_1_57);
\draw[arr] (matmul_2_55) -- (permute_4_56);
\draw[arr] (dropout_2_54) -- (matmul_2_55) node[elab, pos=0.9, above left] {self};
\draw[arr] (add_5_44) -- (matmul_2_55) node[elab, pos=0.97, right] {other};
\draw[arr] (softmax_1_53) -- (dropout_2_54);
\draw[arr] (masked_fill_1_52) -- (softmax_1_53);
\draw[arr] (add_6_49) -- (masked_fill_1_52) node[elab, pos=0.8, right] {self};
\draw[carr] (invert_1_51) -- (masked_fill_1_52) node[elab, pos=0.92, below] {mask};
\draw[carr] (bool_1_50) -- (invert_1_51);
\draw[arr] (matmul_1_48) -- (add_6_49);
\draw[arr] (truediv_2_46) -- (matmul_1_48) node[elab, pos=0.85, left] {self};
\draw[arr] (transpose_1_47) -- (matmul_1_48) node[elab, pos=0.85, right] {other};
\draw[arr] (add_4_40) -- (truediv_2_46) node[elab, pos=0.8, right] {self};
\draw[carr] (to_3_45) -- (truediv_2_46) node[elab, pos=0.85, left] {other};
\draw[carr] (mul_3_30) -- (bool_1_50);
\draw[arr] (chunk_2_35) -- (transpose_1_47);
\draw[arr] (chunk_1_34) -- (add_4_40);
\draw[carr] (permute_2_39) -- (add_4_40);
\draw[arr] (chunk_3_36) -- (add_5_44);
\draw[carr] (permute_3_43) -- (add_5_44);
\draw[carr] (view_2_38) -- (permute_2_39);
\draw[carr] (view_3_42) -- (permute_3_43);
\draw[carr] (getitem_3_37) -- (view_2_38);
\draw[carr] (getitem_4_41) -- (view_3_42);
\draw[arr] (permute_1_33) -- (chunk_1_34);
\draw[arr] (permute_1_33) -- (chunk_2_35);
\draw[arr] (permute_1_33) -- (chunk_3_36);
\draw[arr] (view_1_32) -- (permute_1_33);
\draw[arr] (linear_1_31) -- (view_1_32);
\draw[carr] (unsqueeze_4_29) -- (mul_3_30);
\draw[carr] (squeeze_1_28) -- (unsqueeze_4_29);
\draw[carr] (unsqueeze_3_27) -- (squeeze_1_28);
\draw[carr] (unsqueeze_3_27) .. controls (72,3268) and (72,3212) .. (mul_3_30);
\draw[carr] (unsqueeze_2_26) -- (unsqueeze_3_27);

% connectors: embeddings
\draw[arr] (dropout_1_25) -- (linear_1_31);
\draw[arr] (dropout_1_25) -- (identity_1_151);
\draw[arr] (mul_2_24) -- (dropout_1_25);
\draw[arr] (add_3_21) -- (mul_2_24);
\draw[carr] (to_2_23) .. controls (190,3470) and (215,3458) .. (mul_2_24);
\draw[carr] (unsqueeze_1_22) -- (to_2_23);
\draw[carr] (ones_1_4) -- (unsqueeze_1_22);
\draw[carr] (ones_1_4) .. controls (62,3480) and (50,3390) .. (unsqueeze_2_26);
\draw[arr] (mul_1_20) -- (add_3_21);
\draw[arr] (to_1_19) -- (mul_1_20);
\draw[arr] (truediv_1_18) -- (to_1_19);
\draw[arr] (sqrt_1_17) -- (truediv_1_18) node[elab, pos=0.8, left] {other};
\draw[arr] (sub_2_15) .. controls (292,3680) and (290,3610) .. (truediv_1_18) node[elab, pos=0.97, right] {self};
\draw[arr] (add_2_16) -- (sqrt_1_17);
\draw[arr] (mean_2_14) -- (add_2_16);
\draw[arr] (pow_1_13) -- (mean_2_14);
\draw[arr] (sub_1_12) -- (pow_1_13);
\draw[arr] (mean_1_11) -- (sub_1_12) node[elab, pos=0.8, right] {other};
\draw[arr] (mean_1_11) -- (sub_2_15) node[elab, pos=0.8, left] {other};
\draw[arr] (float_1_10) .. controls (248,3792) and (238,3765) .. (sub_1_12) node[elab, pos=0.95, left] {self};
\draw[arr] (float_1_10) .. controls (292,3792) and (298,3765) .. (sub_2_15) node[elab, pos=0.95, right] {self};
\draw[arr] (float_1_10) -- (mean_1_11);
\draw[arr] (add_1_9) -- (float_1_10);
\draw[carr] (embedding_2_8) -- (add_1_9);
\draw[arr] (embedding_1_6) -- (add_1_9);
\draw[carr] (long_1_7) -- (embedding_2_8);
\draw[carr] (getitem_2_5) -- (long_1_7);
\draw[carr] (buffer_1) -- (getitem_2_5);
\draw[arr] (input_1) -- (getitem_1_1);
\draw[arr] (getitem_1_1) -- (eq_1_2);
\draw[arr] (eq_1_2) -- (any_1_3);
\draw[arr] (input_1) .. controls (402,3950) and (398,3872) .. (embedding_1_6);
\end{tikzpicture}
\end{document}
